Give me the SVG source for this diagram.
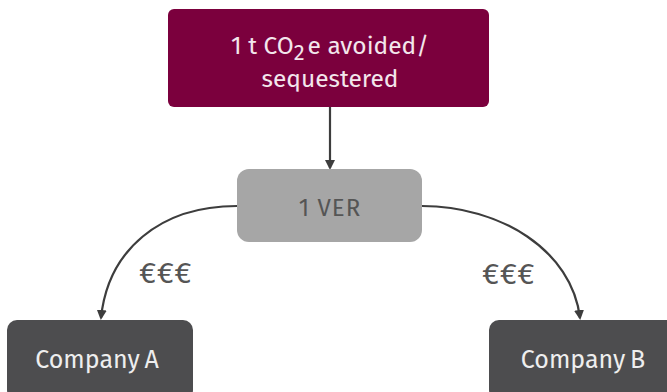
<svg xmlns="http://www.w3.org/2000/svg" width="667" height="392" viewBox="0 0 667 392">
<style>
text{font-family:"Fira Sans","Open Sans","Noto Sans","Liberation Sans",sans-serif;text-anchor:middle}
.lt{fill:#f3e6ec;font-size:24.5px}
.ver{fill:#555;font-size:24px;letter-spacing:1px}
.co{fill:#eeeeee;font-size:25px;word-spacing:-2px}
.eur{fill:#555;font-size:30px;letter-spacing:1px;text-anchor:start}
.c{fill:none;stroke:#3d3d3d;stroke-width:2.2}
</style>
<defs>
<marker id="ah" markerWidth="10" markerHeight="10" refX="8" refY="5" orient="auto" markerUnits="userSpaceOnUse">
<path d="M0,0 L10,5 L0,10 Z" fill="#3d3d3d"/>
</marker>
</defs>
<g id="connectors">
<path class="c" d="M330,107 L330,168" marker-end="url(#ah)"/>
<path class="c" d="M237,206 C160,206 108,250 101,318" marker-end="url(#ah)"/>
<path class="c" d="M422,206 C500,206 572,250 580,318" marker-end="url(#ah)"/>
</g>
<g id="top">
<rect x="168" y="9" width="321" height="98" rx="6" fill="#7b003d"/>
<text class="lt" x="330" y="54">1 t CO<tspan dy="6" font-size="22">2</tspan><tspan dy="-6" dx="3">e avoided/</tspan></text>
<text class="lt" x="330" y="87">sequestered</text>
</g>
<g id="ver">
<rect x="237" y="169" width="185" height="73" rx="12" fill="#a6a6a6"/>
<text class="ver" x="330" y="216">1 VER</text>
</g>
<g id="companyA">
<rect x="7" y="320" width="186" height="80" rx="10" fill="#4d4d4f"/>
<text class="co" x="97" y="368">Company A</text>
</g>
<g id="companyB">
<rect x="489" y="320" width="190" height="80" rx="10" fill="#4d4d4f"/>
<text class="co" x="583" y="368">Company B</text>
</g>
<text class="eur" x="139" y="283">€€€</text>
<text class="eur" x="482" y="284">€€€</text>
</svg>
